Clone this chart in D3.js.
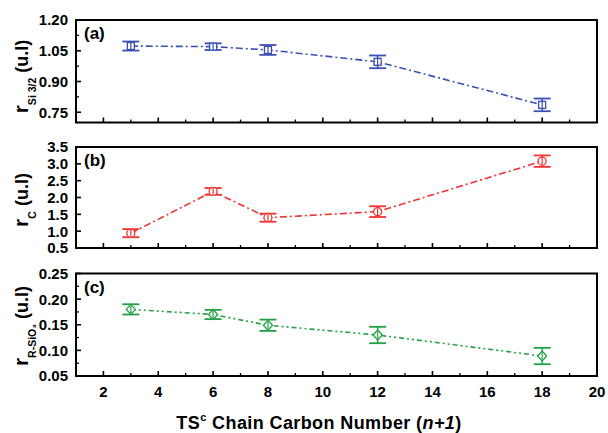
<!DOCTYPE html>
<html><head><meta charset="utf-8">
<script src="https://cdn.jsdelivr.net/npm/d3@7"></script>
<style>body{margin:0;background:#fff}svg{display:block}text{font-family:"Liberation Sans",Arial,sans-serif;font-weight:bold}</style>
</head><body><svg id="c" width="608" height="433"></svg>
<script>
const chainCarbon = [3, 6, 8, 12, 18];
const rSi = [1.073, 1.070, 1.054, 0.996, 0.786];
const rSiErr = [0.022, 0.016, 0.024, 0.031, 0.031];
const rC = [0.94, 2.18, 1.40, 1.58, 3.08];
const rCErr = [0.12, 0.10, 0.12, 0.16, 0.17];
const rRSiO = [0.180, 0.170, 0.149, 0.130, 0.089];
const rRSiOErr = [0.010, 0.009, 0.011, 0.016, 0.016];
const xTickLabels = [2, 4, 6, 8, 10, 12, 14, 16, 18, 20];
const yTicksA = [0.75, 0.90, 1.05, 1.20];
const yTicksB = [0.5, 1.0, 1.5, 2.0, 2.5, 3.0, 3.5];
const yTicksC = [0.05, 0.10, 0.15, 0.20, 0.25];

const svg = d3.select("#c");
const L = 76, R = 597;
const x = d3.scaleLinear().domain([1, 20]).range([L, R]);

const panels = [
  {top:20, bottom:122.5, domain:[0.7,1.2], ticks:yTicksA, minor:[0.825,0.975,1.125], fmt:d3.format(".2f"),
   vals:rSi, errs:rSiErr, color:"#3b4fb4", dash:"7,3,2,3", marker:"square", label:"(a)",
   sub:"Si 3/2", titleY:76.5, showX:false},
  {top:147, bottom:248, domain:[0.5,3.5], ticks:yTicksB, minor:[], fmt:d3.format(".1f"),
   vals:rC, errs:rCErr, color:"#f03232", dash:"7,3,2,3", marker:"circle", label:"(b)",
   sub:"C", titleY:200, showX:false},
  {top:273.5, bottom:376, domain:[0.05,0.25], ticks:yTicksC, minor:[0.075,0.125,0.175,0.225], fmt:d3.format(".2f"),
   vals:rRSiO, errs:rRSiOErr, color:"#22a045", dash:"5,3,2,3,2,3", marker:"diamond", label:"(c)",
   sub:"R-SiO\u2083", titleY:326, showX:true}
];

panels.forEach(p => {
  const y = d3.scaleLinear().domain(p.domain).range([p.bottom, p.top]);
  const g = svg.append("g");
  const xMajor = xTickLabels.filter(v => v < 20);
  const xMinor = d3.range(3, 20, 2);
  xMajor.forEach(v => g.append("line").attr("x1", x(v)).attr("x2", x(v)).attr("y1", p.bottom).attr("y2", p.bottom - 5).attr("stroke", "#000").attr("stroke-width", 1.6));
  xMinor.forEach(v => g.append("line").attr("x1", x(v)).attr("x2", x(v)).attr("y1", p.bottom).attr("y2", p.bottom - 3).attr("stroke", "#000").attr("stroke-width", 1.3));
  p.ticks.forEach(v => {
    g.append("line").attr("x1", L).attr("x2", L + 5).attr("y1", y(v)).attr("y2", y(v)).attr("stroke", "#000").attr("stroke-width", 1.6);
    g.append("text").attr("x", 68).attr("y", y(v)).attr("dy", "0.36em").attr("text-anchor", "end").attr("font-size", 15).text(p.fmt(v));
  });
  p.minor.forEach(v => g.append("line").attr("x1", L).attr("x2", L + 3).attr("y1", y(v)).attr("y2", y(v)).attr("stroke", "#000").attr("stroke-width", 1.3));
  g.append("rect").attr("x", L).attr("y", p.top).attr("width", R - L).attr("height", p.bottom - p.top)
    .attr("fill", "none").attr("stroke", "#000").attr("stroke-width", 2);
  const pts = chainCarbon.map((c, i) => [c, p.vals[i], p.errs[i]]);
  g.append("path").attr("d", d3.line().x(d => x(d[0])).y(d => y(d[1]))(pts))
    .attr("fill", "none").attr("stroke", p.color).attr("stroke-width", 1.6).attr("stroke-dasharray", p.dash);
  pts.forEach(d => {
    const cx = x(d[0]), y1 = y(d[1] + d[2]), y2 = y(d[1] - d[2]);
    g.append("line").attr("x1", cx).attr("x2", cx).attr("y1", y1).attr("y2", y2).attr("stroke", p.color).attr("stroke-width", 1.5);
    [y1, y2].forEach(yy => g.append("line").attr("x1", cx - 8.5).attr("x2", cx + 8.5).attr("y1", yy).attr("y2", yy).attr("stroke", p.color).attr("stroke-width", 1.8));
    const cy = y(d[1]);
    if (p.marker === "square") g.append("rect").attr("x", cx - 3.5).attr("y", cy - 3.5).attr("width", 7).attr("height", 7).attr("fill", "#fff").attr("stroke", p.color).attr("stroke-width", 1.3);
    if (p.marker === "circle") g.append("circle").attr("cx", cx).attr("cy", cy).attr("r", 4).attr("fill", "#fff").attr("stroke", p.color).attr("stroke-width", 1.3);
    if (p.marker === "diamond") g.append("path").attr("d", `M${cx},${cy-5}L${cx+4.5},${cy}L${cx},${cy+5}L${cx-4.5},${cy}Z`).attr("fill", "#fff").attr("stroke", p.color).attr("stroke-width", 1.3);
    g.append("line").attr("x1", cx).attr("x2", cx).attr("y1", cy - 3.5).attr("y2", cy + 3.5).attr("stroke", p.color).attr("stroke-width", 1.2);
  });
  g.append("text").attr("x", 84).attr("y", p.top + 19).attr("font-size", 17).text(p.label);
  const t = g.append("text").attr("transform", `translate(28,${p.titleY}) rotate(-90)`).attr("text-anchor", "middle").attr("font-size", 18);
  t.append("tspan").attr("font-size", 21).text("r");
  t.append("tspan").attr("font-size", 10.5).attr("dy", 8).text(p.sub);
  t.append("tspan").attr("dy", -8).attr("font-size", 18).text(" (u.l)");
  if (p.showX) {
    xTickLabels.forEach(v => g.append("text").attr("x", x(v)).attr("y", 397).attr("text-anchor", "middle").attr("font-size", 15).text(v));
  }
});

const xt = svg.append("text").attr("x", 319).attr("y", 429).attr("text-anchor", "middle").attr("font-size", 18).attr("letter-spacing", 0.4);
xt.append("tspan").text("TS");
xt.append("tspan").attr("font-size", 11).attr("dy", -8).text("c");
xt.append("tspan").attr("dy", 8).text(" Chain Carbon Number (");
xt.append("tspan").attr("font-style", "italic").text("n+1");
xt.append("tspan").text(")");
</script></body></html>
